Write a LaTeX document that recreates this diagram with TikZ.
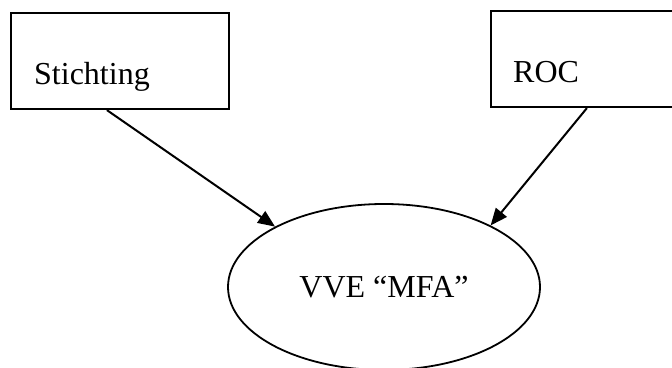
\documentclass[tikz,border=0pt]{standalone}
\usepackage{fontspec}
\setmainfont{Liberation Serif}
\usetikzlibrary{arrows.meta,shapes.geometric,positioning}

\begin{document}
\begin{tikzpicture}[x=1pt,y=1pt,
    box/.style={draw, line width=2.2pt, rectangle, inner sep=0pt},
    txt/.style={inner sep=0pt, font=\fontsize{32}{38}\selectfont},
    org/.style={draw, line width=1.8pt, ellipse, inner sep=0pt,
                minimum width=312pt, minimum height=166pt,
                font=\fontsize{32}{38}\selectfont},
    edge/.style={line width=2pt, -{Triangle[length=17pt,width=14pt]}}]
	  \useasboundingbox (0,0) rectangle (672,367);
	  \node[box, minimum width=218pt, minimum height=96pt] (stichting) at (120,306) {} ; %
	  \node[txt, anchor=base west] (stichtingtxt) at (34,282) {Stichting};
	  \node[box, minimum width=260pt, minimum height=96pt] (roc) at (621,308) {} ; %
	  \node[txt, anchor=base west] (roctxt) at (513,284) {ROC};
	  \node[org] (vve) at (384,80) {VVE “MFA”};

	  \coordinate (s1) at ([xshift=97pt]stichting.south west);
	  \coordinate (r1) at ([xshift=97pt]roc.south west);

	  \draw[edge] (s1) -- (vve.151) ; %
	  \draw[edge] (r1) -- (vve.30) ;
\end{tikzpicture}
\end{document}
